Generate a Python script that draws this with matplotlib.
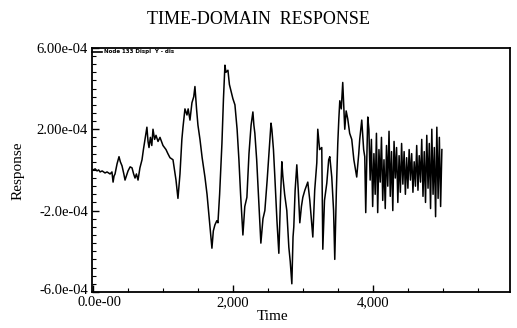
import matplotlib
matplotlib.use("Agg")
import matplotlib.pyplot as plt
import matplotlib.transforms as mtransforms
from matplotlib.ticker import FixedLocator, MultipleLocator

# ---- data ----
time = [0, 30, 57, 80, 100, 130, 171, 200, 243, 270, 286, 300, 314, 343, 371, 390, 414, 440, 457, 480,
        500, 530, 557, 580, 600, 620, 643, 670, 700, 720, 743, 770, 786, 800, 820, 840, 857, 880, 900, 929,
        957, 1000, 1043, 1070, 1100, 1143, 1186, 1214, 1243, 1270, 1286, 1314, 1343, 1360, 1386, 1414, 1440,
        1457, 1480, 1500, 1529, 1560, 1600, 1630, 1657, 1700, 1720, 1743, 1770, 1786, 1810, 1843, 1865, 1886,
        1900, 1929, 1950, 1971, 2000, 2029, 2060, 2086, 2110, 2143, 2170, 2200, 2230, 2260, 2286, 2300, 2314,
        2340, 2370, 2400, 2430, 2457, 2490, 2520, 2545, 2557, 2580, 2600, 2630, 2657, 2680, 2700, 2714, 2740,
        2771, 2800, 2820, 2843, 2860, 2871, 2890, 2914, 2935, 2957, 2980, 3000, 3029, 3050, 3071, 3100, 3143,
        3170, 3200, 3214, 3240, 3271, 3286, 3310, 3343, 3370, 3386, 3414, 3440, 3457, 3480, 3500, 3515, 3529,
        3550, 3571, 3590, 3600, 3620, 3643, 3670, 3700, 3730, 3771, 3800, 3814, 3843, 3870, 3886, 3900, 3915,
        3929,
        3945, 3963, 3981, 3999, 4017, 4035, 4053, 4071, 4089, 4107, 4125, 4143, 4161, 4179, 4197, 4215, 4233,
        4251, 4269, 4287, 4305, 4323, 4341, 4359, 4377, 4395, 4413, 4431, 4449, 4467, 4485, 4503, 4521, 4539,
        4557, 4575, 4593, 4611, 4629, 4647, 4665, 4683, 4701, 4719, 4737, 4755, 4773, 4791, 4809, 4827, 4845,
        4863, 4881, 4899, 4917, 4935, 4953, 4971, 4989]

response = [0.0e-4, 0.05e-4, -0.05e-4, 0.0e-4, -0.1e-4, -0.05e-4, -0.15e-4, -0.1e-4, -0.2e-4, -0.1e-4,
            -0.6e-4, -0.3e-4, -0.2e-4, 0.3e-4, 0.65e-4, 0.4e-4, 0.2e-4, -0.2e-4, -0.5e-4, -0.25e-4,
            -0.05e-4, 0.15e-4, 0.1e-4, -0.2e-4, -0.4e-4, -0.2e-4, -0.5e-4, 0.1e-4, 0.5e-4, 1.0e-4,
            1.5e-4, 2.1e-4, 1.4e-4, 1.1e-4, 1.6e-4, 1.2e-4, 2.0e-4, 1.5e-4, 1.7e-4, 1.4e-4,
            1.6e-4, 1.2e-4, 1.0e-4, 0.8e-4, 0.6e-4, 0.5e-4, -0.5e-4, -1.4e-4, -0.2e-4, 1.5e-4,
            2.1e-4, 3.0e-4, 2.7e-4, 3.0e-4, 2.45e-4, 3.3e-4, 3.6e-4, 4.1e-4, 3.0e-4, 2.2e-4,
            1.5e-4, 0.6e-4, -0.35e-4, -1.2e-4, -2.2e-4, -3.85e-4, -3.0e-4, -2.7e-4, -2.5e-4, -2.6e-4,
            -1.2e-4, 1.3e-4, 3.5e-4, 5.15e-4, 4.8e-4, 4.9e-4, 4.2e-4, 3.9e-4, 3.5e-4, 3.2e-4,
            2.0e-4, 0.5e-4, -1.2e-4, -3.2e-4, -1.8e-4, -1.35e-4, 0.8e-4, 2.2e-4, 2.85e-4, 2.2e-4,
            1.8e-4, 0.5e-4, -1.5e-4, -3.6e-4, -2.4e-4, -2.0e-4, -0.5e-4, 1.0e-4, 2.3e-4, 2.0e-4,
            1.0e-4, -0.35e-4, -2.5e-4, -4.1e-4, -1.5e-4, 0.4e-4, -0.3e-4, -1.2e-4, -2.0e-4, -3.8e-4,
            -4.5e-4, -5.6e-4, -3.3e-4, -2.8e-4, -1.0e-4, 0.25e-4, -1.0e-4, -2.6e-4, -1.8e-4, -1.35e-4,
            -1.0e-4, -0.8e-4, -0.6e-4, -1.5e-4, -3.3e-4, -1.0e-4, 0.35e-4, 2.0e-4, 1.0e-4, 1.1e-4,
            -3.9e-4, -1.5e-4, -0.65e-4, 0.5e-4, 0.65e-4, -0.35e-4, -2.0e-4, -4.4e-4, -1.0e-4, 1.3e-4,
            2.5e-4, 3.4e-4, 3.0e-4, 4.3e-4, 2.8e-4, 2.0e-4, 2.9e-4, 2.5e-4, 1.8e-4, 1.5e-4,
            0.5e-4, -0.35e-4, 0.8e-4, 1.5e-4, 2.45e-4, 1.0e-4, 0.65e-4, -2.1e-4, 0.5e-4, 2.6e-4,
            2.0e-4, -0.5e-4, 1.5e-4, -1.8e-4, 0.8e-4, -1.2e-4, 1.8e-4, -2.1e-4, 1.0e-4, -0.6e-4,
            1.6e-4, -1.5e-4, 0.5e-4, -1.9e-4, 1.2e-4, -0.8e-4, 1.9e-4, -1.3e-4, 0.9e-4, -2.0e-4,
            1.4e-4, -0.4e-4, 1.1e-4, -1.6e-4, 0.7e-4, -1.1e-4, 1.3e-4, -0.7e-4, 0.9e-4, -1.2e-4,
            0.6e-4, -0.9e-4, 1.0e-4, -0.5e-4, 0.8e-4, -1.1e-4, 0.4e-4, -0.8e-4, 1.2e-4, -1.0e-4,
            0.7e-4, -0.6e-4, 1.5e-4, -1.3e-4, 0.9e-4, -1.6e-4, 1.7e-4, -0.9e-4, 1.3e-4, -1.9e-4,
            2.0e-4, -1.2e-4, 1.1e-4, -2.3e-4, 2.1e-4, -1.4e-4, 1.6e-4, -1.8e-4, 1.0e-4]

ytick_values = [6e-4, 2e-4, -2e-4, -6e-4]
ytick_labels = ["6.00e-04", "2.00e-04", "-2.0e-04", "-6.0e-04"]
xtick_values = [0, 2000, 4000]
xtick_labels = ["0.0e-00", "2,000", "4,000"]
title = "TIME-DOMAIN  RESPONSE"
legend_label = "Node 133 Displ  Y - dis"

serif = ["Liberation Serif", "DejaVu Serif"]

fig = plt.figure(figsize=(5.17, 3.28), dpi=100)
ax = fig.add_axes([0.178, 0.110, 0.808, 0.744])

ax.plot(time, response, color="black", lw=1.1)

ax.set_xlim(-15, 5960)
ax.set_ylim(-6e-4, 6e-4)

ax.yaxis.set_major_locator(FixedLocator(ytick_values))
ax.set_yticklabels(ytick_labels, family=serif, fontsize=10.5)
ax.yaxis.set_minor_locator(MultipleLocator(0.4e-4))
ax.xaxis.set_major_locator(FixedLocator(xtick_values))
ax.set_xticklabels(xtick_labels, family=serif, fontsize=10.5)
ax.xaxis.set_minor_locator(MultipleLocator(500))

ax.tick_params(axis="both", which="major", direction="in", length=5, width=1, pad=3)
ax.tick_params(axis="both", which="minor", direction="in", length=3, width=0.8)
ax.tick_params(axis="x", which="major", pad=3)
for s in ax.spines.values():
    s.set_linewidth(1.3)

# nudge the first x label right and the bottom y label up, as in the reference
xl0 = ax.get_xticklabels()[0]
xl0.set_transform(xl0.get_transform() + mtransforms.ScaledTranslation(6 / 100, 0, fig.dpi_scale_trans))
yl_bottom = ax.get_yticklabels()[-1]
yl_bottom.set_transform(yl_bottom.get_transform() + mtransforms.ScaledTranslation(0, 3 / 100, fig.dpi_scale_trans))

# legend-like label at top left
ax.plot([0.0, 0.025], [0.985, 0.985], transform=ax.transAxes, color="black", lw=1.2, clip_on=False)
ax.text(0.028, 0.985, legend_label, transform=ax.transAxes, fontsize=4, fontweight="bold",
        va="center", ha="left", family="DejaVu Sans")

fig.text(0.5, 0.942, title, ha="center", va="center", family=serif, fontsize=13)
fig.text(0.035, 0.48, "Response", ha="center", va="center", rotation=90, family=serif, fontsize=11)
fig.text(0.527, 0.035, "Time", ha="center", va="center", family=serif, fontsize=11)

fig.savefig("out.png", dpi=100, facecolor="white")
